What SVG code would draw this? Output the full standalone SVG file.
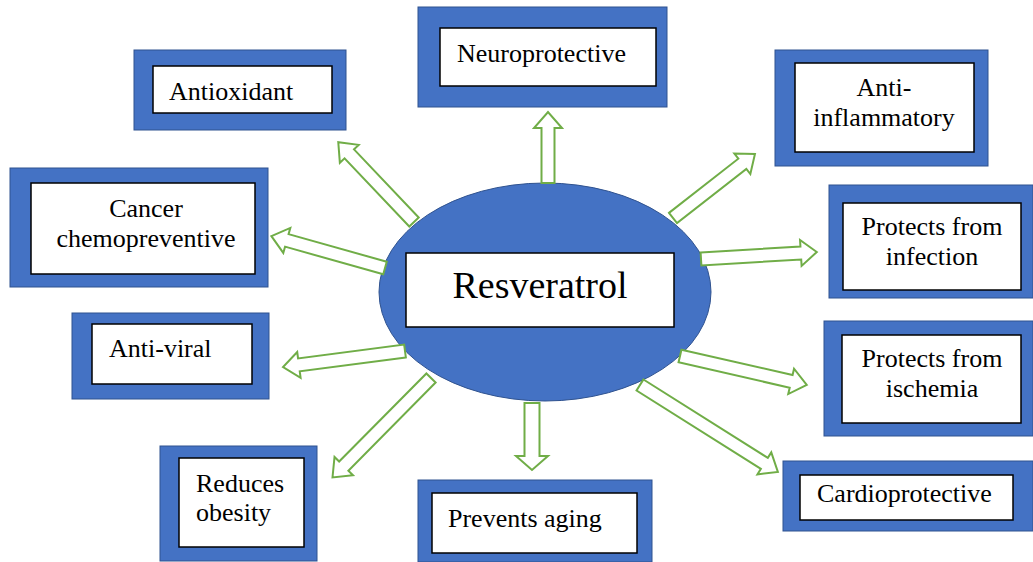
<svg xmlns="http://www.w3.org/2000/svg" width="1033" height="562" viewBox="0 0 1033 562">
<style>
.outer{fill:#4472C4;stroke:#2F528F;stroke-width:1}
.inner{fill:#FFFFFF;stroke:#000000;stroke-width:1.5}
.lbl{font-family:"Liberation Serif","Times New Roman",serif;font-size:26px;fill:#000}
.mid{text-anchor:middle}
.arr{fill:#FFFFFF;stroke:#70AD47;stroke-width:2;stroke-linejoin:miter}
</style>
<rect width="1033" height="562" fill="#FFFFFF"/>
<g id="resveratrol">
<ellipse cx="545" cy="292" rx="166" ry="109" fill="#4472C4" stroke="#2F528F" stroke-width="1"/>
<rect class="inner" x="406" y="253" width="268" height="74"/>
<text class="lbl mid" x="540" y="298" style="font-size:38px">Resveratrol</text>
</g>
<g id="connectors">
<polygon class="arr" transform="translate(548,183) rotate(-90)" points="0,-6.5 55,-6.5 55,-14 71,0 55,14 55,6.5 0,6.5"/>
<polygon class="arr" transform="translate(532,403) rotate(90)" points="0,-7.5 53,-7.5 53,-16 67,0 53,16 53,7.5 0,7.5"/>
<polygon class="arr" transform="translate(414,222) rotate(-133.5)" points="0,-6.5 94,-6.5 94,-13 110,0 94,13 94,6.5 0,6.5"/>
<polygon class="arr" transform="translate(385,268) rotate(-164.3)" points="0,-6.5 102,-6.5 102,-13 118,0 102,13 102,6.5 0,6.5"/>
<polygon class="arr" transform="translate(673,218) rotate(-38)" points="0,-6.5 88,-6.5 88,-13 104,0 88,13 88,6.5 0,6.5"/>
<polygon class="arr" transform="translate(701,259) rotate(-3.45)" points="0,-6.5 100,-6.5 100,-13 116,0 100,13 100,6.5 0,6.5"/>
<polygon class="arr" transform="translate(680,356) rotate(12.86)" points="0,-6.5 114,-6.5 114,-13 130,0 114,13 114,6.5 0,6.5"/>
<polygon class="arr" transform="translate(640,385) rotate(32.23)" points="0,-6.5 147,-6.5 147,-13 163,0 147,13 147,6.5 0,6.5"/>
<polygon class="arr" transform="translate(405,351) rotate(172.53)" points="0,-6.5 107,-6.5 107,-13 123,0 107,13 107,6.5 0,6.5"/>
<polygon class="arr" transform="translate(431,378) rotate(134.71)" points="0,-6.5 124,-6.5 124,-13 140,0 124,13 124,6.5 0,6.5"/>
</g>
<g id="antioxidant">
<rect class="outer" x="134" y="50" width="212" height="80"/>
<rect class="inner" x="153" y="66" width="179" height="47"/>
<text class="lbl" x="169" y="100">Antioxidant</text>
</g>
<g id="neuroprotective">
<rect class="outer" x="418" y="7" width="249" height="100"/>
<rect class="inner" x="440" y="28" width="216" height="58"/>
<text class="lbl" x="457" y="62">Neuroprotective</text>
</g>
<g id="anti-inflammatory">
<rect class="outer" x="775" y="50" width="213" height="116"/>
<rect class="inner" x="795" y="63" width="179" height="89"/>
<text class="lbl mid" x="884" y="96">Anti-</text>
<text class="lbl mid" x="884" y="126">inflammatory</text>
</g>
<g id="cancer">
<rect class="outer" x="10" y="168" width="258" height="119"/>
<rect class="inner" x="31" y="183" width="224" height="91"/>
<text class="lbl mid" x="146" y="217">Cancer</text>
<text class="lbl mid" x="146" y="247">chemopreventive</text>
</g>
<g id="anti-viral">
<rect class="outer" x="72" y="313" width="197" height="86"/>
<rect class="inner" x="92" y="324" width="160" height="60"/>
<text class="lbl" x="109" y="357">Anti-viral</text>
</g>
<g id="obesity">
<rect class="outer" x="160" y="446" width="157" height="115"/>
<rect class="inner" x="179" y="458" width="125" height="89"/>
<text class="lbl" x="196" y="492">Reduces</text>
<text class="lbl" x="196" y="521">obesity</text>
</g>
<g id="aging">
<rect class="outer" x="418" y="480" width="234" height="82"/>
<rect class="inner" x="432" y="493" width="205" height="60"/>
<text class="lbl" x="448" y="527">Prevents aging</text>
</g>
<g id="infection">
<rect class="outer" x="829" y="185" width="204" height="113"/>
<rect class="inner" x="843" y="203" width="178" height="87"/>
<text class="lbl mid" x="932" y="235">Protects from</text>
<text class="lbl mid" x="932" y="265">infection</text>
</g>
<g id="ischemia">
<rect class="outer" x="824" y="321" width="209" height="115"/>
<rect class="inner" x="842" y="335" width="179" height="88"/>
<text class="lbl mid" x="932" y="367">Protects from</text>
<text class="lbl mid" x="932" y="397">ischemia</text>
</g>
<g id="cardioprotective">
<rect class="outer" x="783" y="461" width="250" height="70"/>
<rect class="inner" x="800" y="475" width="213" height="45"/>
<text class="lbl" x="817" y="502">Cardioprotective</text>
</g>
</svg>
